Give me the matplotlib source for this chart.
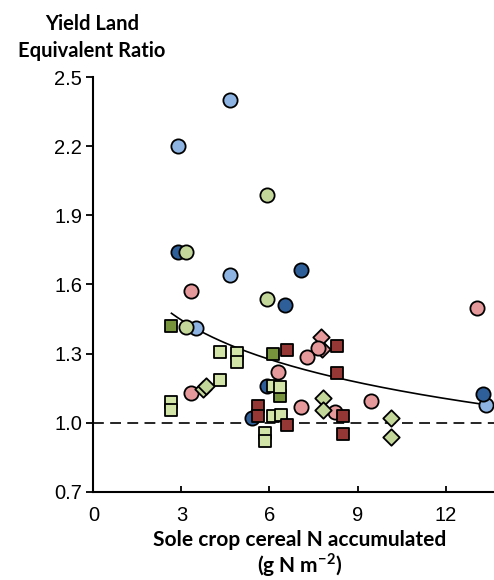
import numpy as np
import matplotlib.pyplot as plt

plt.rcParams['font.family'] = ['Liberation Sans', 'DejaVu Sans']
plt.rcParams['mathtext.fontset'] = 'custom'
plt.rcParams['mathtext.rm'] = 'Lato'
plt.rcParams['mathtext.bf'] = 'Lato:bold'

# datos (x = N acumulado, y = LER)
lb_x = [2.89, 4.65, 4.65, 3.49, 13.37]
lb_y = [2.20, 2.40, 1.64, 1.41, 1.077]
db_x = [2.89, 7.07, 6.52, 5.93, 5.39, 13.28]
db_y = [1.74, 1.665, 1.51, 1.161, 1.02, 1.125]
lgc_x = [5.93, 3.14, 5.93, 3.14]
lgc_y = [1.99, 1.74, 1.535, 1.414]
pk_x = [3.31, 13.06, 6.28, 7.66, 7.28, 3.31, 7.07, 8.23, 9.45]
pk_y = [1.57, 1.50, 1.219, 1.325, 1.284, 1.129, 1.069, 1.045, 1.096]
dgs_x = [2.63, 6.13, 6.35]
dgs_y = [1.42, 1.30, 1.114]
lgs_x = [4.33, 4.88, 4.88, 4.33, 2.63, 2.63, 6.13, 6.35, 6.13, 6.38, 5.84, 5.84]
lgs_y = [1.306, 1.303, 1.265, 1.186, 1.089, 1.055, 1.161, 1.153, 1.028, 1.035, 0.954, 0.922]
drs_x = [6.60, 8.29, 8.29, 5.62, 5.62, 6.60, 8.51, 8.51]
drs_y = [1.316, 1.335, 1.214, 1.071, 1.030, 0.991, 1.03, 0.953]
pkd_x = [7.80, 7.74]
pkd_y = [1.32, 1.374]
lgd_x = [3.75, 3.85, 7.81, 7.81, 10.13, 10.13]
lgd_y = [1.145, 1.16, 1.107, 1.055, 1.019, 0.939]

# curva de ajuste y = a + b*ln(x)
fit_a = 1.7155
fit_b = -0.2458
fit_x0, fit_x1 = 2.66, 13.37

xticks = [0, 3, 6, 9, 12]
yticks = [0.7, 1.0, 1.3, 1.6, 1.9, 2.2, 2.5]

fig = plt.figure(figsize=(4.94, 5.80), dpi=100)
ax = fig.add_axes([0.189, 0.152, 0.811, 0.715])

ax.axhline(1.0, color='black', lw=1.2, ls=(0, (6.5, 3.8)), zorder=1)

xf = np.linspace(fit_x0, fit_x1, 200)
ax.plot(xf, fit_a + fit_b*np.log(xf), color='black', lw=1.2, zorder=2)

ek = dict(edgecolors='black', linewidths=1.3, clip_on=False)
ax.scatter(lb_x, lb_y, s=105, marker='o', c='#8DB4E2', zorder=3, **ek)
ax.scatter(db_x, db_y, s=105, marker='o', c='#2F5F98', zorder=3, **ek)
ax.scatter(lgc_x, lgc_y, s=105, marker='o', c='#C4D79B', zorder=4, **ek)
ax.scatter(pk_x, pk_y, s=105, marker='o', c='#E6999B', zorder=4, **ek)
ax.scatter(dgs_x, dgs_y, s=80, marker='s', c='#77933C', zorder=5, **ek)
ax.scatter(lgs_x, lgs_y, s=80, marker='s', c='#D2E4A8', zorder=6, **ek)
ax.scatter(drs_x, drs_y, s=80, marker='s', c='#953735', zorder=6, **ek)
ax.scatter(pkd_x, pkd_y, s=70, marker='D', c='#E6999B', zorder=3, **ek)
ax.scatter(lgd_x, lgd_y, s=70, marker='D', c='#C4D79B', zorder=6, **ek)

ax.set_xlim(0, 13.65)
ax.set_ylim(0.7, 2.5)
ax.set_xticks(xticks)
ax.set_yticks(yticks)
ax.set_yticklabels(['%.1f' % v for v in yticks])
ax.tick_params(axis='y', direction='out', length=5, width=1.3, labelsize=14.5, pad=3)
ax.tick_params(axis='x', direction='in', length=4, width=1.3, labelsize=14.5, pad=10)
for s in ['top', 'right']:
    ax.spines[s].set_visible(False)
for s in ['left', 'bottom']:
    ax.spines[s].set_linewidth(1.5)

lab = dict(ha='center', va='center', fontweight='bold', family=['Lato', 'DejaVu Sans'])
fig.text(0.186, 0.959, 'Yield Land', fontsize=14.5, **lab)
fig.text(0.186, 0.912, 'Equivalent Ratio', fontsize=14.5, **lab)
fig.text(0.607, 0.069, 'Sole crop cereal N accumulated', fontsize=15, **lab)
fig.text(0.607, 0.026, '(g N m$^{\\mathbf{-2}}$)', fontsize=15, **lab)

fig.savefig('out.png', dpi=100)
